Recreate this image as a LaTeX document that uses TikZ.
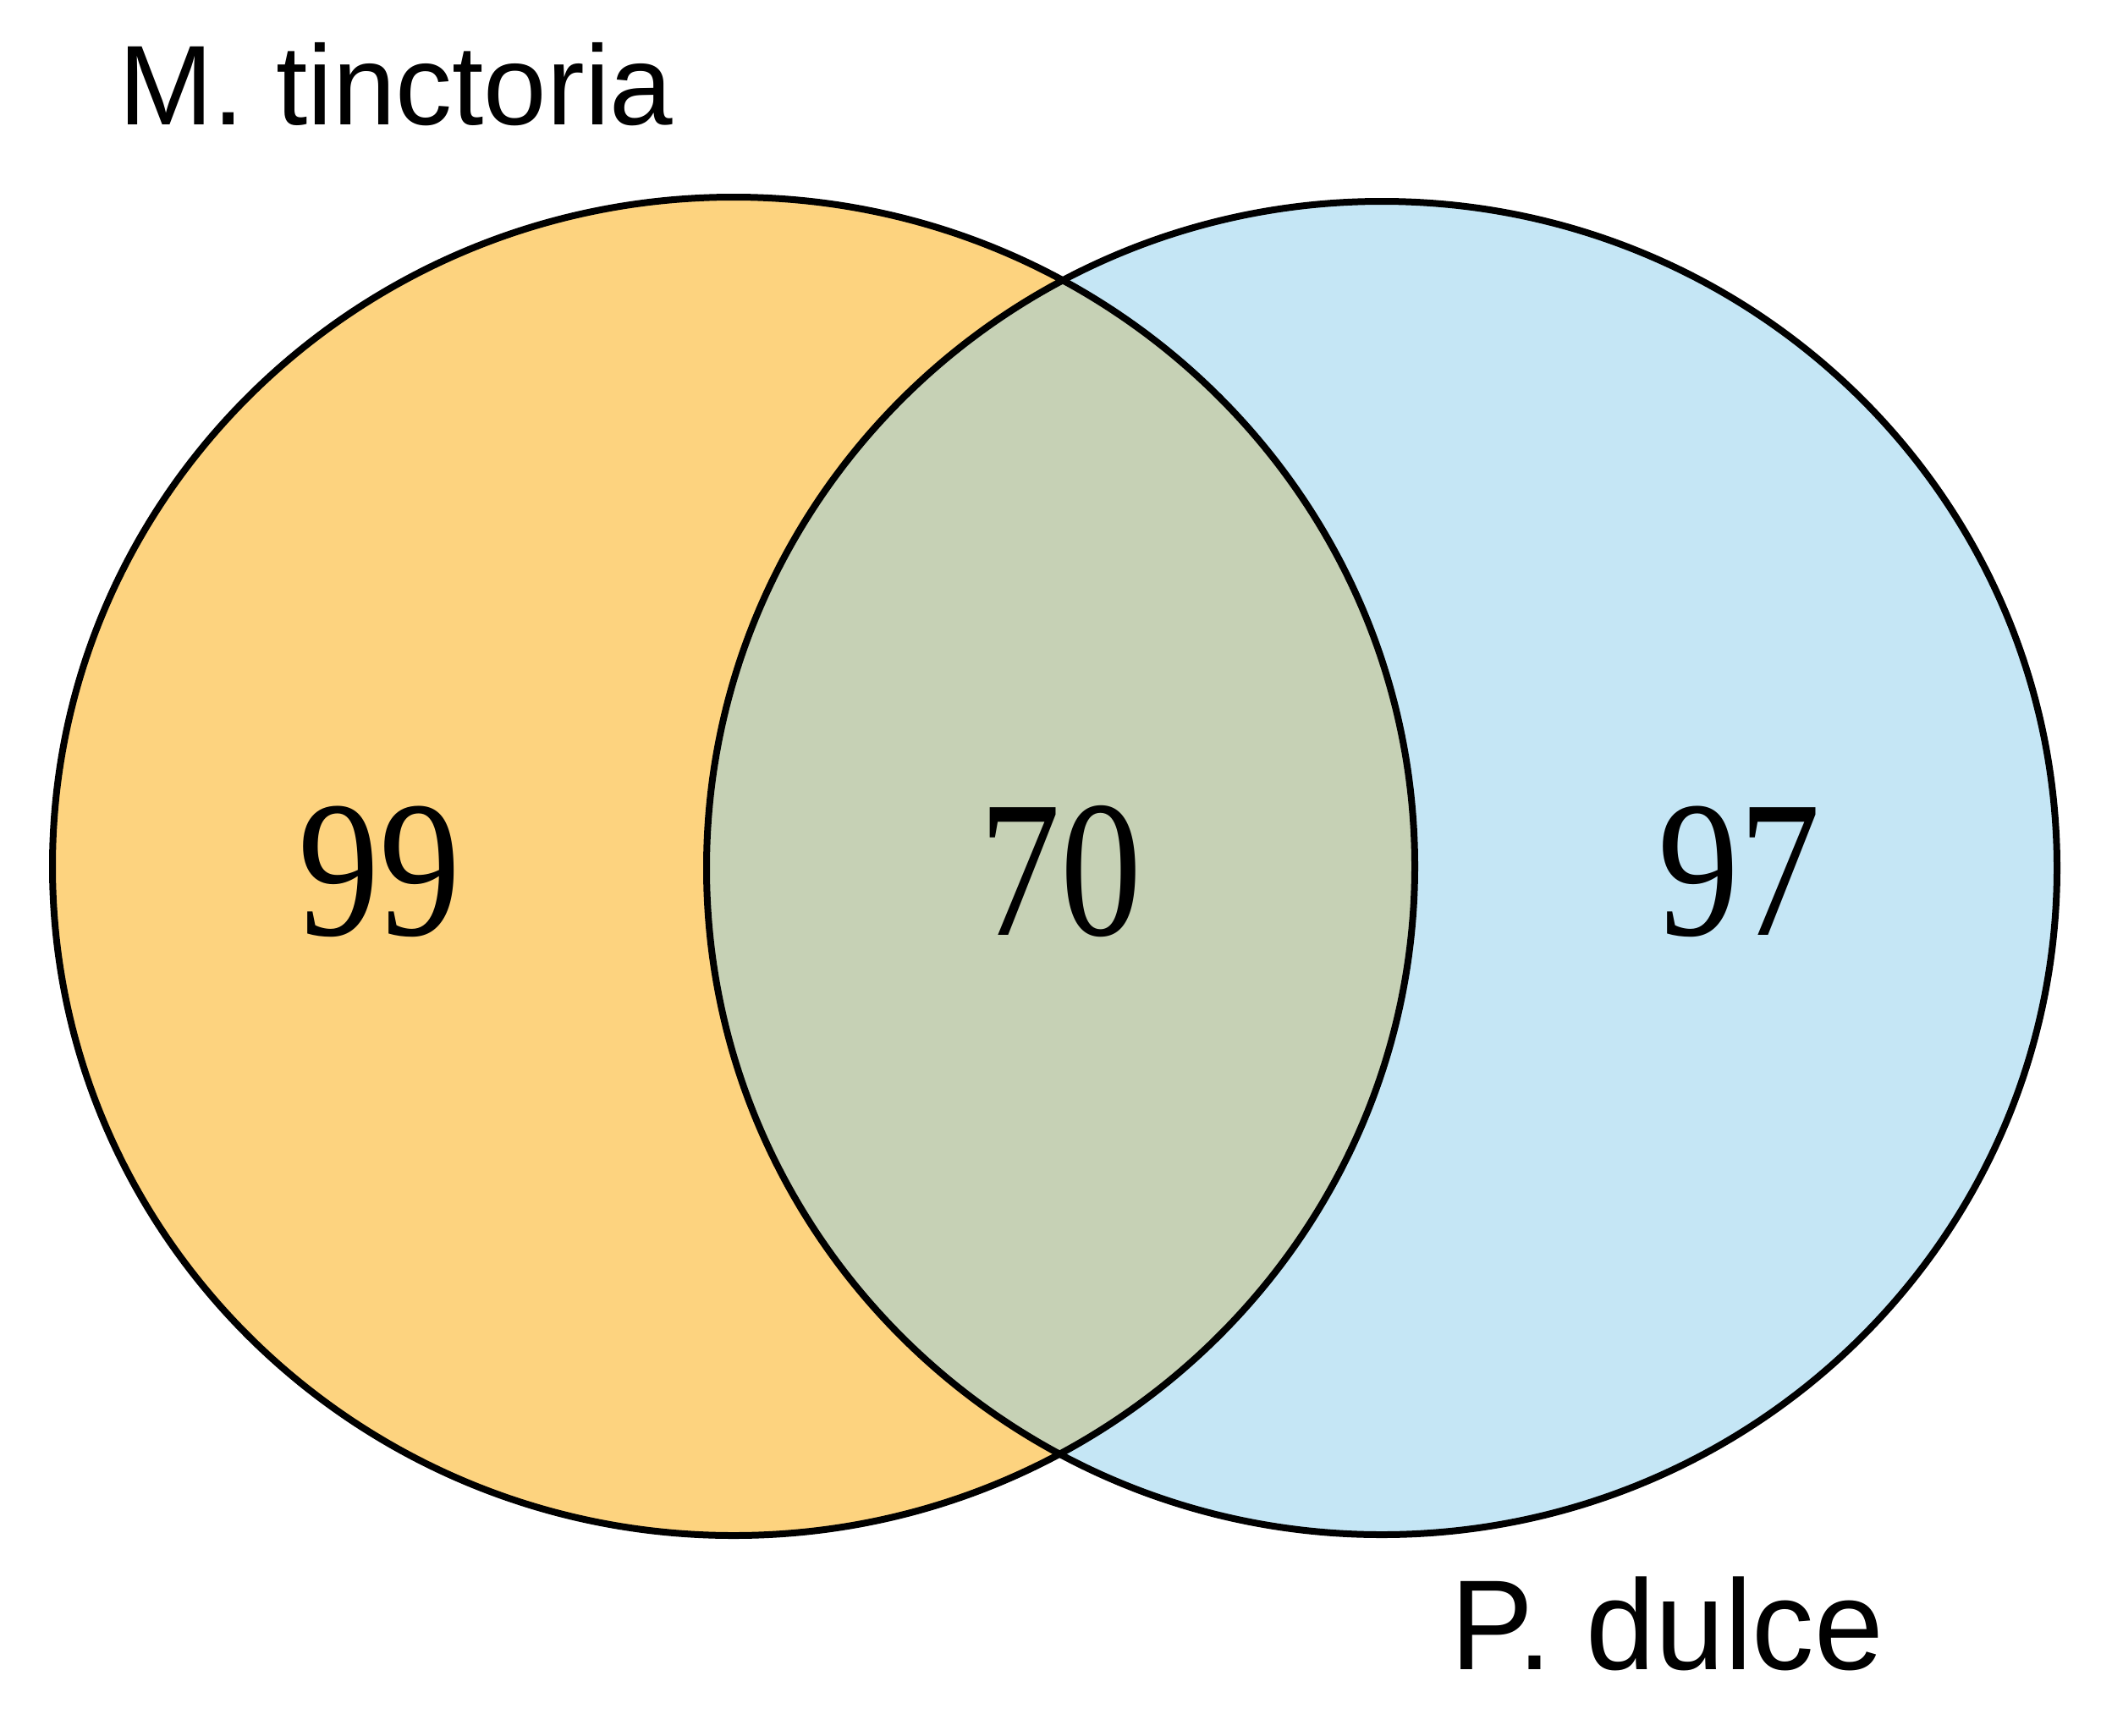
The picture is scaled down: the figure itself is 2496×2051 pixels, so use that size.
\documentclass[tikz,border=0pt]{standalone}
\usepackage{fontspec}
\setmainfont{Liberation Serif}
\newfontfamily\labelfont{Liberation Sans}
\definecolor{setA}{RGB}{253,211,127}
\definecolor{setB}{RGB}{197,230,245}
\definecolor{setAB}{RGB}{198,209,181}
\begin{document}
\begin{tikzpicture}[x=1pt,y=-1pt,
  outline/.style={draw=black,line width=8pt},
  countlabel/.style={inner sep=0pt,anchor=center,font=\fontsize{192}{200}\selectfont},
  setlabel/.style={inner sep=0pt,anchor=base west}]
\useasboundingbox (0,0) rectangle (2496,2051);
\fill[white] (0,0) rectangle (2496,2051);
% set fills
\fill[setA] (867,1024) ellipse [x radius=805,y radius=791];
\fill[setB] (1633,1026) ellipse [x radius=798,y radius=788];
\begin{scope}
  \clip (867,1024) ellipse [x radius=805,y radius=791];
  \fill[setAB] (1633,1026) ellipse [x radius=798,y radius=788];
\end{scope}
% outlines
\draw[outline] (867,1024) ellipse [x radius=805,y radius=791];
\draw[outline] (1633,1026) ellipse [x radius=798,y radius=788];
% counts
\node[countlabel] (onlyA) at (448,1030) {\scalebox{1}[1.2]{99}};
\node[countlabel] (both) at (1253,1030) {\scalebox{1}[1.2]{70}};
\node[countlabel] (onlyB) at (2055,1030) {\scalebox{1}[1.2]{97}};
% set names
\node[setlabel] (nameA) at (140,147) {\labelfont\fontsize{134}{140}\selectfont M. tinctoria};
\node[setlabel] (nameB) at (1714,1973) {\labelfont\fontsize{147}{150}\selectfont\scalebox{1}[1.03]{P. dulce}};
\end{tikzpicture}
\end{document}
